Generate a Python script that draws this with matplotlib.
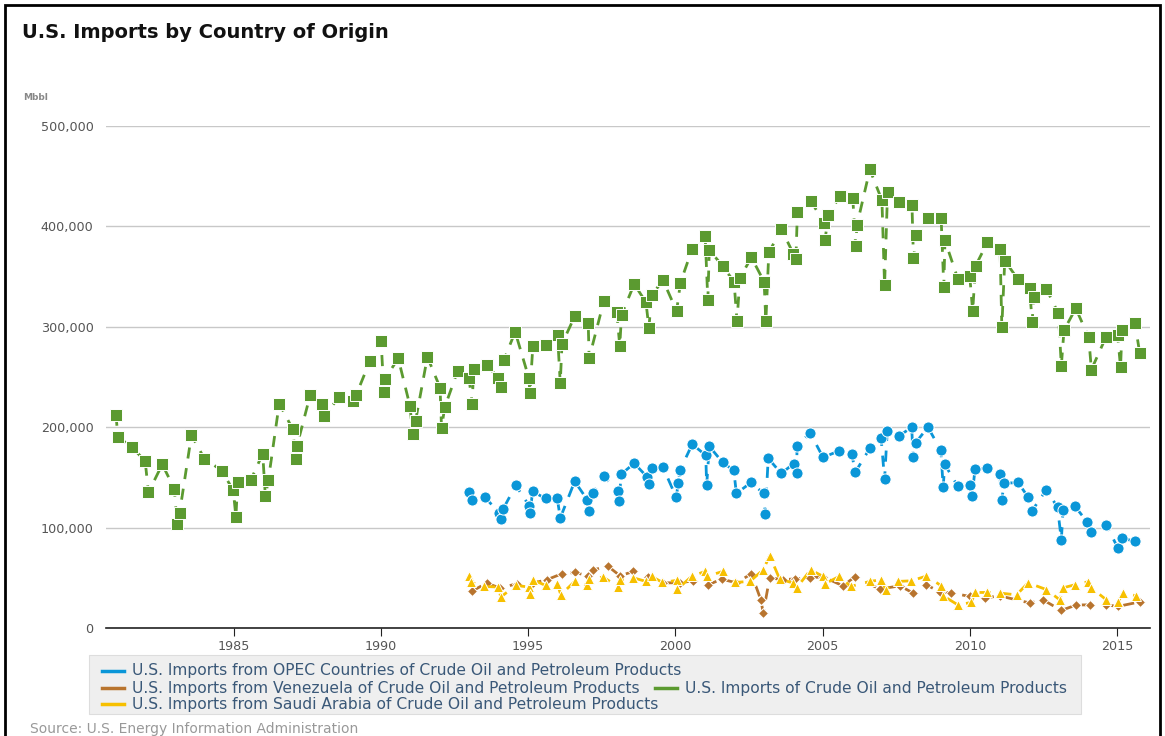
import matplotlib.pyplot as plt
from matplotlib.patches import Rectangle
from matplotlib.lines import Line2D
from matplotlib.ticker import FuncFormatter

# U.S. Imports of Crude Oil and Petroleum Products (Mbbl)
total_years = [1981.01, 1981.07, 1981.55, 1982.0, 1982.11, 1982.58, 1982.99, 1983.08, 1983.17, 1983.57,
               1984.01, 1984.6, 1984.99, 1985.08, 1985.14, 1985.58, 1985.99, 1986.08, 1986.18, 1986.55,
               1987.01, 1987.11, 1987.15, 1987.6, 1988.0, 1988.08, 1988.58, 1989.07, 1989.16, 1989.63,
               1990.01, 1990.1, 1990.14, 1990.59, 1990.99, 1991.08, 1991.18, 1991.58, 1992.01, 1992.06,
               1992.17, 1992.61, 1992.99, 1993.1, 1993.15, 1993.59, 1993.99, 1994.08, 1994.18, 1994.56,
               1995.02, 1995.06, 1995.16, 1995.6, 1996.0, 1996.09, 1996.15, 1996.59, 1997.04, 1997.07,
               1997.57, 1998.01, 1998.11, 1998.17, 1998.6, 1999.0, 1999.1, 1999.19, 1999.58, 2000.04,
               2000.17, 2000.57, 2001.01, 2001.1, 2001.15, 2001.6, 2001.99, 2002.09, 2002.19, 2002.58,
               2003.01, 2003.07, 2003.17, 2003.6, 2004.0, 2004.09, 2004.14, 2004.6, 2005.04, 2005.08,
               2005.18, 2005.58, 2006.02, 2006.12, 2006.16, 2006.6, 2007.01, 2007.1, 2007.2, 2007.59,
               2008.03, 2008.08, 2008.18, 2008.58, 2009.02, 2009.11, 2009.15, 2009.59, 2009.99, 2010.09,
               2010.19, 2010.59, 2011.02, 2011.08, 2011.18, 2011.62, 2012.02, 2012.11, 2012.16, 2012.59,
               2013.0, 2013.1, 2013.19, 2013.59, 2014.03, 2014.12, 2014.62, 2015.01, 2015.11, 2015.16,
               2015.6, 2015.76]
total_vals = [212500, 190600, 180000, 166400, 135000, 163000, 138600, 104000, 115000, 192000,
              168700, 156800, 137000, 110700, 145900, 147000, 173700, 131000, 147000, 223500,
              198000, 168700, 181000, 231800, 223500, 211500, 229800, 226000, 232000, 266000,
              285600, 235400, 248000, 268600, 221000, 193300, 206600, 270000, 239400, 199300,
              220000, 256300, 249400, 223500, 258300, 262300, 249000, 240400, 267300, 295000,
              249400, 234400, 280600, 281600, 291500, 244000, 283000, 311000, 303800, 268600,
              325700, 314400, 281000, 311700, 342600, 324400, 298800, 331600, 346300, 315700,
              343900, 377700, 390000, 326700, 376700, 360500, 344900, 305800, 348900, 369100,
              344900, 305800, 374100, 397300, 372700, 367400, 414200, 425500, 403300, 386000,
              411000, 429800, 428400, 380000, 401000, 456700, 426000, 341300, 434000, 423900,
              421500, 368200, 391000, 408000, 408000, 340000, 386000, 347500, 351000, 315700,
              360800, 384000, 377700, 300000, 366000, 347500, 338900, 304800, 329300, 337900,
              313400, 261300, 296500, 318400, 289500, 257300, 290100, 291800, 259700, 296800,
              303500, 274000]

# U.S. Imports from OPEC Countries
opec_years = [1992.99, 1993.08, 1993.53, 1994.01, 1994.07, 1994.16, 1994.58, 1995.03, 1995.07, 1995.15,
              1995.59, 1995.99, 1996.09, 1996.58, 1997.01, 1997.07, 1997.19, 1997.57, 1998.04, 1998.1,
              1998.15, 1998.6, 1999.04, 1999.1, 1999.19, 1999.58, 2000.03, 2000.09, 2000.16, 2000.57,
              2001.03, 2001.06, 2001.15, 2001.6, 2001.98, 2002.07, 2002.57, 2002.99, 2003.05, 2003.15,
              2003.59, 2004.01, 2004.11, 2004.13, 2004.57, 2005.01, 2005.56, 2005.99, 2006.1, 2006.6,
              2006.98, 2007.1, 2007.19, 2007.58, 2008.02, 2008.07, 2008.16, 2008.57, 2009.01, 2009.09,
              2009.14, 2009.59, 2009.99, 2010.07, 2010.17, 2010.58, 2011.01, 2011.07, 2011.17, 2011.63,
              2011.98, 2012.11, 2012.59, 2012.97, 2013.1, 2013.16, 2013.55, 2013.98, 2014.12, 2014.63,
              2015.02, 2015.17, 2015.61]
opec_vals = [135000, 127000, 130300, 115000, 108500, 119000, 142000, 122000, 115000, 136000,
             129000, 129000, 109500, 146000, 127700, 117000, 134000, 151000, 136000, 126000,
             153000, 164000, 150500, 143000, 159000, 160000, 130000, 144000, 157500, 183000,
             172000, 142000, 181000, 165000, 157000, 134000, 145000, 134000, 114000, 169000,
             154000, 163500, 154000, 181000, 194600, 170000, 176400, 173400, 155000, 179000,
             189700, 148000, 196000, 191000, 200000, 170000, 184700, 200000, 177000, 140000,
             163000, 141000, 142000, 131600, 158000, 159000, 153500, 127700, 144000, 145000,
             130000, 117000, 137600, 120400, 87900, 117700, 121700, 105500, 96000, 102500,
             79600, 89500, 86200]

# U.S. Imports from Venezuela
ven_years = [1993.08, 1993.59, 1994.04, 1994.61, 1995.17, 1995.63, 1996.14, 1996.59, 1997.04, 1997.21,
             1997.72, 1998.12, 1998.57, 1999.08, 1999.58, 2000.15, 2000.6, 2001.11, 2001.57, 2002.07,
             2002.58, 2002.9, 2002.98, 2003.2, 2003.66, 2004.05, 2004.56, 2005.01, 2005.69, 2006.09,
             2006.94, 2007.62, 2008.07, 2008.52, 2008.97, 2009.37, 2009.99, 2010.5, 2011.01, 2012.03,
             2012.48, 2013.1, 2013.61, 2014.06, 2014.63, 2015.02, 2015.76]
ven_vals = [36400, 44800, 39800, 44000, 44800, 48000, 54000, 55300, 52000, 58000,
            61300, 52000, 56300, 51000, 45000, 45000, 47000, 43000, 48700, 45000,
            54000, 28000, 15000, 50000, 48000, 49000, 50000, 51000, 42000, 51000,
            38800, 42000, 34800, 43000, 36000, 35000, 31400, 30000, 32000, 24900,
            28000, 17500, 23000, 23000, 23000, 21500, 26000]

# U.S. Imports from Saudi Arabia
saudi_years = [1992.99, 1993.05, 1993.51, 1993.99, 1994.07, 1994.58, 1995.03, 1995.06, 1995.16, 1995.59,
               1995.99, 1996.11, 1996.58, 1997.01, 1997.07, 1997.55, 1998.06, 1998.12, 1998.57, 1999.0,
               1999.19, 1999.56, 2000.04, 2000.07, 2000.55, 2001.0, 2001.06, 2001.6, 2002.02, 2002.53,
               2002.98, 2003.2, 2003.54, 2004.0, 2004.11, 2004.59, 2005.01, 2005.07, 2005.56, 2005.95,
               2006.6, 2006.99, 2007.14, 2007.56, 2008.01, 2008.52, 2009.03, 2009.09, 2009.59, 2010.05,
               2010.16, 2010.56, 2011.01, 2011.58, 2011.97, 2012.59, 2013.05, 2013.16, 2013.55, 2014.0,
               2014.12, 2014.63, 2015.02, 2015.19, 2015.65]
saudi_vals = [52000, 45800, 41400, 40800, 30800, 42400, 40800, 33400, 48000, 42400,
              44000, 33000, 46400, 42400, 48700, 50700, 40800, 47400, 50000, 46400,
              51400, 45400, 47400, 38800, 51400, 56300, 51400, 56300, 45400, 46400,
              58000, 72000, 48700, 44800, 39800, 58000, 51400, 44000, 51400, 41400,
              46400, 48000, 38000, 46400, 47000, 51700, 42000, 32000, 23000, 25500,
              35400, 35400, 34800, 33000, 45000, 38300, 28000, 40000, 43000, 46000,
              40000, 28000, 25500, 35000, 32000]

labels = ["U.S. Imports from OPEC Countries of Crude Oil and Petroleum Products",
          "U.S. Imports from Venezuela of Crude Oil and Petroleum Products",
          "U.S. Imports of Crude Oil and Petroleum Products",
          "U.S. Imports from Saudi Arabia of Crude Oil and Petroleum Products"]
colors = ["#0a96d8", "#b8742e", "#5b9a30", "#f7c000"]

W, H = 1165, 736
plt.rcParams['font.family'] = ['DejaVu Sans']

fig = plt.figure(figsize=(W / 100, H / 100), dpi=100)
ax = fig.add_axes([106 / W, 1 - 628 / H, (1150 - 106) / W, (628 - 126) / H])

dash = (0, (4, 3.5))
ax.plot(opec_years, opec_vals, color=colors[0], lw=2, ls=dash, marker='o', ms=8,
        mec='white', mew=0.7, zorder=3)
ax.plot(ven_years, ven_vals, color=colors[1], lw=2, ls=dash, marker='D', ms=5.5,
        mec='white', mew=0.7, zorder=3)
ax.plot(total_years, total_vals, color=colors[2], lw=2, ls=dash, marker='s', ms=8,
        mec='white', mew=0.7, zorder=3)
ax.plot(saudi_years, saudi_vals, color=colors[3], lw=2, ls=dash, marker='^', ms=7.5,
        mec='white', mew=0.7, zorder=4)

ax.set_xlim(1980.67, 2016.11)
ax.set_ylim(0, 500000)
ax.set_yticks(range(0, 500001, 100000))
ax.yaxis.set_major_formatter(FuncFormatter(lambda v, p: f"{int(v):,}"))
ax.set_xticks(range(1985, 2016, 5))
ax.grid(axis='y', color='#c8c8c8', lw=1)
ax.set_axisbelow(True)
for s in ['left', 'right', 'top']:
    ax.spines[s].set_visible(False)
ax.spines['bottom'].set_color('#222222')
ax.spines['bottom'].set_linewidth(1.2)
ax.tick_params(axis='y', length=0, pad=9, labelsize=9.2, labelcolor='#555555')
ax.tick_params(axis='x', length=6, color='#222222', pad=3, labelsize=9.2, labelcolor='#555555')

# title, unit and border
fig.text(22 / W, 1 - 32 / H, "U.S. Imports by Country of Origin", fontsize=14,
         fontweight='bold', color='#111111', va='center')
fig.text(23 / W, 1 - 97 / H, "Mbbl", fontsize=6.5, fontweight='bold', color='#888888', va='center')
fig.patches.append(Rectangle((5 / W, -0.05), (1160 - 5) / W, 1 - 5 / H + 0.05,
                             transform=fig.transFigure, fill=False, ec='black', lw=2))

# legend box
fig.patches.append(Rectangle((89 / W, 1 - 714 / H), (1081 - 89) / W, (714 - 655) / H,
                             transform=fig.transFigure, fc='#efefef', ec='#dddddd', lw=0.8))
items = [(102, 671, 0), (102, 688, 1), (655, 688, 2), (102, 704, 3)]
for x, y, i in items:
    fig.lines.append(Line2D([x / W, (x + 22) / W], [1 - y / H, 1 - y / H],
                            transform=fig.transFigure, color=colors[i], lw=2.5))
    fig.text((x + 30) / W, 1 - y / H, labels[i], fontsize=11.2, color='#3a5878', va='center')

fig.text(30 / W, 1 - 729 / H, "Source: U.S. Energy Information Administration", fontsize=10,
         color='#999999', va='center')

fig.savefig('out.png', dpi=100)
